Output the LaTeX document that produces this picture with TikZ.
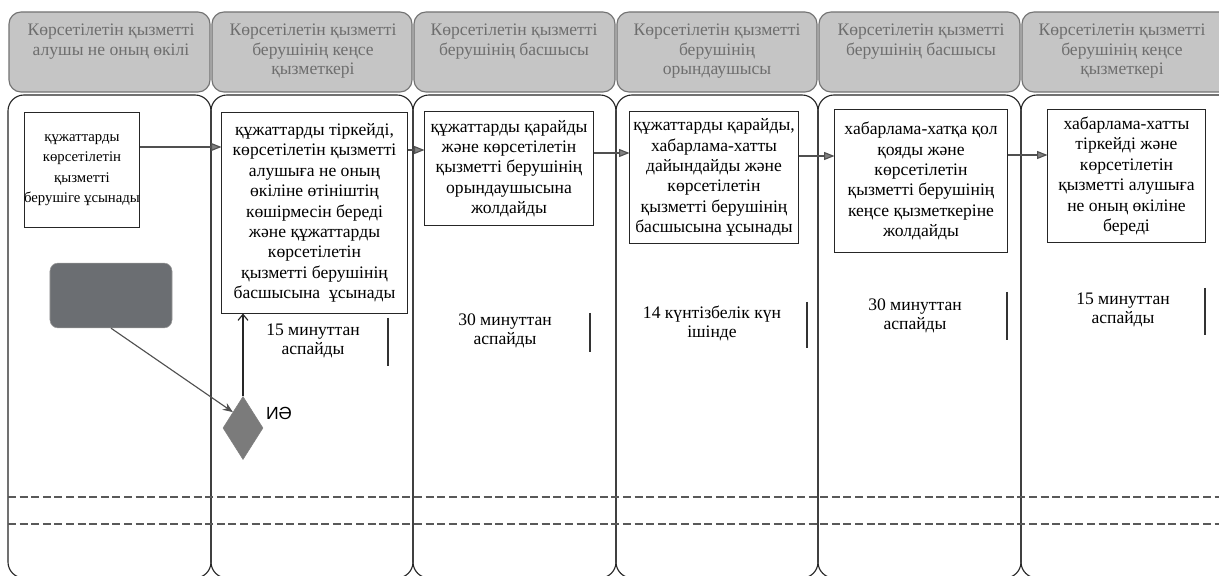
\documentclass[tikz,border=0pt]{standalone}
\usepackage{fontspec}
\setmainfont{Liberation Serif}
\newfontfamily\iefont{Liberation Sans}
\usepackage{tikz}
\tikzset{>=latex}
\usetikzlibrary{arrows,arrows.meta,shapes.geometric,positioning}
\definecolor{headgray}{HTML}{C5C5C5}
\definecolor{headtext}{HTML}{6E6E6E}
\definecolor{startgray}{HTML}{6B6E72}
\definecolor{gategray}{HTML}{7B7B7B}
\definecolor{flowgray}{HTML}{505050}
\tikzset{
  % swimlanes and their headers
  lane/.style={draw=black!85, line width=0.8pt, rounded corners=0.4cm},
  headbg/.style={draw=black!55, fill=headgray, line width=0.8pt, rounded corners=0.3cm},
  headtxt/.style={anchor=north, inner sep=0pt, align=center, text=headtext,
    font=\fontsize{12.5}{13.8}\selectfont},
  % process steps
  stepbox/.style={draw=black!85, fill=white, line width=0.7pt, inner sep=0pt, align=center,
    font=\fontsize{12.5}{14.5}\selectfont},
  timetxt/.style={inner sep=0pt, align=center, font=\fontsize{12.5}{13.5}\selectfont},
  bar/.style={draw=black!80, line width=1pt},
  flow/.style={draw=flowgray, line width=0.8pt, -{Triangle[length=0.26cm,width=0.2cm,fill=gray]}},
  sep/.style={draw=black!65, line width=0.8pt, dash pattern=on 0.2cm off 0.09cm},
}

\begin{document}
\begin{tikzpicture}[x=0.025cm, y=-0.025cm]
\path[use as bounding box, clip] (0,0) rectangle (1219,576);
\fill[white] (0,0) rectangle (1219,576);

\foreach \xa/\xb in {8/211, 211/413, 413/616, 616/818, 818/1021, 1021/1240}{
  \draw[headbg] (\xa+1,12) rectangle (\xb-1,92);
  \draw[lane] (\xa,95) rectangle (\xb,578);
}

\node[headtxt] (t1) at (111,24) {Көрсетілетін қызметті\\алушы не оның өкілі};
\node[headtxt] (t2) at (313,24) {Көрсетілетін қызметті\\берушінің кеңсе\\қызметкері};
\node[headtxt] (t3) at (514,24) {Көрсетілетін қызметті\\берушінің басшысы};
\node[headtxt] (t4) at (717,24) {Көрсетілетін қызметті\\берушінің\\орындаушысы};
\node[headtxt] (t5) at (921,24) {Көрсетілетін қызметті\\берушінің басшысы};
\node[headtxt] (t6) at (1122,24) {Көрсетілетін қызметті\\берушінің кеңсе\\қызметкері};

\draw[sep] (8,497) -- (1219,497);
\draw[sep] (8,524) -- (1219,524);

\node[stepbox, font=\fontsize{10.5}{14.5}\selectfont, minimum width=2.875cm, minimum height=2.85cm] (b1) at (82,170)
  {құжаттарды\\көрсетілетін\\қызметті\\берушіге ұсынады};
\node[stepbox, minimum width=4.625cm, minimum height=5cm] (b2) at (314.5,213)
  {құжаттарды тіркейді,\\көрсетілетін қызметті\\алушыға не оның\\өкіліне өтініштің\\көшірмесін береді\\және құжаттарды\\көрсетілетін\\қызметті берушінің\\басшысына\ \ ұсынады};
\node[stepbox, minimum width=4.2cm, minimum height=2.825cm] (b3) at (509,168.5)
  {құжаттарды қарайды\\және көрсетілетін\\қызметті берушінің\\орындаушысына\\жолдайды};
\node[stepbox, minimum width=4.2cm, minimum height=3.275cm] (b4) at (714,177.5)
  {құжаттарды қарайды,\\хабарлама-хатты\\дайындайды және\\көрсетілетін\\қызметті берушінің\\басшысына ұсынады};
\node[stepbox, minimum width=4.3cm, minimum height=3.55cm] (b5) at (921,181)
  {хабарлама-хатқа қол\\қояды және\\көрсетілетін\\қызметті берушінің\\кеңсе қызметкеріне\\жолдайды};
\node[stepbox, minimum width=3.925cm, minimum height=3.3cm] (b6) at (1126.5,176)
  {хабарлама-хатты\\тіркейді және\\көрсетілетін\\қызметті алушыға\\не оның өкіліне\\береді};

\draw[flow] (b1.east |- 0,147) -- (b2.west |- 0,147);
\draw[flow] (b2.east |- 0,150) -- (b3.west |- 0,150);
\draw[flow] (b3.east |- 0,153) -- (b4.west |- 0,153);
\draw[flow] (b4.east |- 0,156) -- (b5.west |- 0,156);
\draw[flow] (b5.east |- 0,155) -- (b6.west |- 0,155);

\node[draw=black!40, fill=startgray, rounded corners=0.2cm, minimum width=3.05cm,
  minimum height=1.62cm] (start) at (111,295.5) {};
\node[diamond, draw=black!50, fill=gategray, inner sep=0pt, minimum width=1cm,
  minimum height=1.575cm] (gate) at (243,428) {};
\node[font=\iefont\fontsize{12.5}{14}\selectfont] (ie) at (279,413) {ИӘ};

\draw[draw=flowgray, line width=0.8pt, -{Stealth[length=0.25cm,width=0.2cm]}] (start.south) -- (gate.north west);
\draw[draw=black!85, line width=0.8pt, -{Straight Barb[length=0.15cm,width=0.25cm]}] (gate.north) -- (gate.north |- b2.south);

\node[timetxt] (d2) at (313,341) {15 минуттан\\аспайды};
\node[timetxt] (d3) at (505,331) {30 минуттан\\аспайды};
\node[timetxt] (d4) at (712,323) {14 күнтізбелік күн\\ішінде};
\node[timetxt] (d5) at (915,316) {30 минуттан\\аспайды};
\node[timetxt] (d6) at (1123,310) {15 минуттан\\аспайды};

\draw[bar] (388,318) -- (388,366);
\draw[bar] (590,313) -- (590,352);
\draw[bar] (807,302) -- (807,348);
\draw[bar] (1007,292) -- (1007,340);
\draw[bar] (1205,288) -- (1205,335);
\end{tikzpicture}
\end{document}
